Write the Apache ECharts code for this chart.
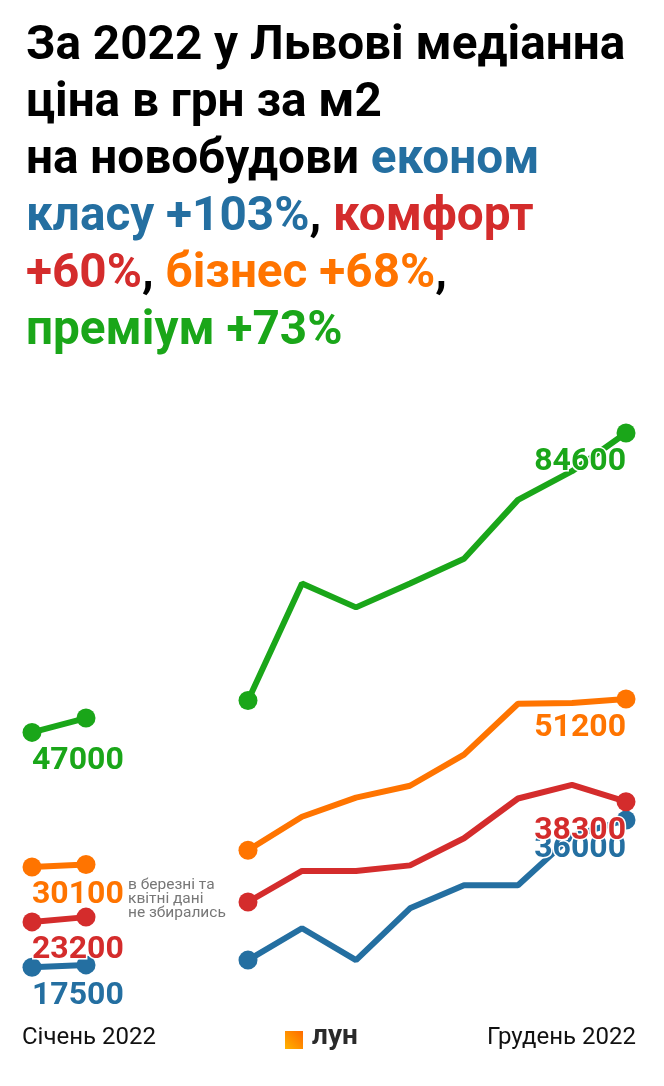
<!DOCTYPE html>
<html>
<head>
<meta charset="utf-8">
<script src="https://cdn.jsdelivr.net/npm/echarts@6/dist/echarts.min.js"></script>
<style>
  html, body { margin: 0; padding: 0; background: #fff; }
  #chart { width: 664px; height: 1086px; }
</style>
</head>
<body>
<div id="chart"></div>
<script>
// місяці 2022, березень і квітень без даних
const months = ['Січ', 'Лют', 'Бер', 'Кві', 'Тра', 'Чер', 'Лип', 'Сер', 'Вер', 'Жов', 'Лис', 'Гру']

const econom = [17500, 17800, null, null, 18400, 22400, 18400, 24900, 27800, 27800, 34000, 36000]
const comfort = [23200, 23800, null, null, 25700, 29600, 29600, 30300, 33700, 38700, 40400, 38300]
const business = [30100, 30400, null, null, 32200, 36400, 38800, 40300, 44200, 50600, 50700, 51200]
const premium = [47000, 48800, null, null, 51000, 65700, 62700, 65700, 68800, 76200, 79800, 84600]

const colors = {
  econom: '#246fa1',
  comfort: '#d42c2c',
  business: '#ff7400',
  premium: '#1aa619'
}

const font = 'Roboto, "Noto Sans", sans-serif'

// точки лише на краях відрізків
const dotIdx = [0, 1, 4, 11]

const makeSeries = (name, values, color) => ({
  name,
  type: 'line',
  connectNulls: false,
  lineStyle: { width: 6, color },
  itemStyle: { color },
  symbol: 'circle',
  symbolSize: (v, p) => (dotIdx.includes(p.dataIndex) ? 19 : 0),
  showAllSymbol: true,
  z: 2,
  data: values.map((v, i) => {
    if (i === 0 || i === values.length - 1) {
      return {
        value: v,
        label: {
          show: true,
          position: 'bottom',
          distance: i === 0 ? 3 : 4,
          align: i === 0 ? 'left' : 'right',
          color,
          fontFamily: font,
          fontWeight: 'bold',
          fontSize: 32,
          textBorderColor: '#fff',
          textBorderWidth: 3,
          formatter: p => String(p.value)
        }
      }
    }
    return v
  })
})

const titleStyle = color => ({ color, fontFamily: font, fontWeight: 'bold', fontSize: 47.7, lineHeight: 57 })

const chart = echarts.init(document.getElementById('chart'))

const option = {
  animation: false,
  backgroundColor: '#fff',
  title: {
    left: 21,
    top: 14,
    text: [
      '{k|За 2022 у Львові медіанна}',
      '{k|ціна в грн за м2}',
      '{k|на новобудови }{e|економ}',
      '{e|класу +103%}{k|, }{c|комфорт}',
      '{c|+60%}{k|, }{b|бізнес +68%}{k|,}',
      '{p|преміум +73%}'
    ].join('\n'),
    textStyle: {
      fontFamily: font,
      fontWeight: 'bold',
      fontSize: 47.7,
      lineHeight: 57,
      rich: {
        k: titleStyle('#000'),
        e: titleStyle(colors.econom),
        c: titleStyle(colors.comfort),
        b: titleStyle(colors.business),
        p: titleStyle(colors.premium)
      }
    }
  },
  grid: {
    left: 32,
    right: 38,
    top: 390,
    height: 637
  },
  xAxis: {
    type: 'category',
    boundaryGap: false,
    data: months,
    show: false
  },
  yAxis: {
    type: 'value',
    min: 10000,
    max: 90000,
    show: false
  },
  series: [
    makeSeries('економ', econom, colors.econom),
    makeSeries('комфорт', comfort, colors.comfort),
    makeSeries('бізнес', business, colors.business),
    makeSeries('преміум', premium, colors.premium)
  ],
  graphic: [
    {
      type: 'text',
      left: 128,
      top: 877,
      style: {
        text: 'в березні та\nквітні дані\nне збирались',
        fill: '#777',
        font: '15.5px ' + font,
        lineHeight: 14
      }
    },
    {
      type: 'text',
      left: 22,
      top: 1026,
      style: { text: 'Січень 2022', fill: '#111', font: '24px ' + font }
    },
    {
      type: 'text',
      right: 28,
      top: 1026,
      style: { text: 'Грудень 2022', fill: '#111', font: '24px ' + font }
    },
    {
      type: 'rect',
      left: 285,
      top: 1031,
      shape: { width: 18, height: 18 },
      style: {
        fill: new echarts.graphic.LinearGradient(0, 1, 1, 0, [
          { offset: 0, color: '#ffb300' },
          { offset: 1, color: '#ff6a00' }
        ])
      }
    },
    {
      type: 'text',
      left: 312,
      top: 1023,
      style: { text: 'лун', fill: '#2a2a2a', font: 'bold 28px ' + font }
    }
  ]
}

chart.setOption(option)
</script>
</body>
</html>
